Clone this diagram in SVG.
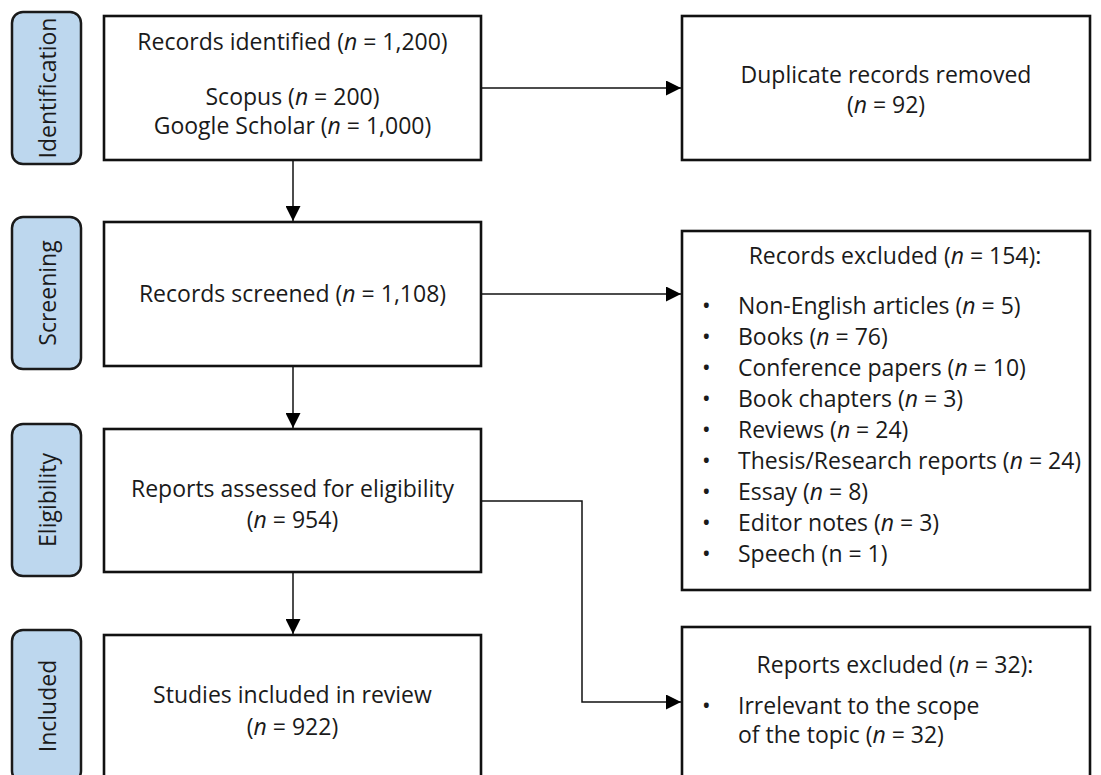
<svg xmlns="http://www.w3.org/2000/svg" width="1101" height="775" viewBox="0 0 1101 775">
<style>
text{font-family:"Open Sans","Noto Sans","Liberation Sans",sans-serif;font-size:23px;fill:#1a1a1a;}
.c{text-anchor:middle;}
.box{fill:#fff;stroke:#111;stroke-width:2.6;}
.pill{fill:#bdd7ee;stroke:#1a1a1a;stroke-width:2.5;}
.conn{fill:none;stroke:#111;stroke-width:1.5;}
.i{font-style:italic;}
</style>
<defs>
<marker id="ah" markerUnits="userSpaceOnUse" markerWidth="15" markerHeight="15" refX="15" refY="7.5" orient="auto">
<path d="M0,0 L15,7.5 L0,15 z" fill="#000"/>
</marker>
</defs>
<rect width="1101" height="775" fill="#fff"/>

<g id="phase-identification">
<rect class="pill" x="12" y="12" width="69" height="152" rx="11"/>
<text class="c" transform="translate(47,88) rotate(-90)" dominant-baseline="central">Identification</text>
</g>
<g id="phase-screening">
<rect class="pill" x="12" y="217" width="69" height="152" rx="11"/>
<text class="c" transform="translate(47,293) rotate(-90)" dominant-baseline="central">Screening</text>
</g>
<g id="phase-eligibility">
<rect class="pill" x="12" y="424" width="69" height="152" rx="11"/>
<text class="c" transform="translate(47,500) rotate(-90)" dominant-baseline="central">Eligibility</text>
</g>
<g id="phase-included">
<rect class="pill" x="12" y="630" width="69" height="152" rx="11"/>
<text class="c" transform="translate(47,706) rotate(-90)" dominant-baseline="central">Included</text>
</g>

<g id="connectors">
<line class="conn" x1="293" y1="160" x2="293" y2="221" marker-end="url(#ah)"/>
<line class="conn" x1="481" y1="88" x2="681" y2="88" marker-end="url(#ah)"/>
<line class="conn" x1="293" y1="366" x2="293" y2="428" marker-end="url(#ah)"/>
<line class="conn" x1="481" y1="294" x2="681" y2="294" marker-end="url(#ah)"/>
<polyline class="conn" points="481,501 582,501 582,702 681,702" marker-end="url(#ah)"/>
<line class="conn" x1="293" y1="572" x2="293" y2="634" marker-end="url(#ah)"/>
</g>

<g id="records-identified">
<rect class="box" x="104" y="16" width="377" height="144"/>
<text class="c" x="292.5" y="50">Records identified (<tspan class="i">n</tspan> = 1,200)</text>
<text class="c" x="292.5" y="105">Scopus (<tspan class="i">n</tspan> = 200)</text>
<text class="c" x="292.5" y="134">Google Scholar (<tspan class="i">n</tspan> = 1,000)</text>
</g>
<g id="duplicates-removed">
<rect class="box" x="682" y="16" width="408" height="144"/>
<text class="c" x="886" y="83">Duplicate records removed</text>
<text class="c" x="886" y="113">(<tspan class="i">n</tspan> = 92)</text>
</g>
<g id="records-screened">
<rect class="box" x="104" y="222" width="377" height="144"/>
<text class="c" x="292.5" y="302">Records screened (<tspan class="i">n</tspan> = 1,108)</text>
</g>
<g id="records-excluded">
<rect class="box" x="682" y="231" width="408" height="359"/>
<text class="c" x="895" y="264">Records excluded (<tspan class="i">n</tspan> = 154):</text>
<g>
<text x="702" y="314">•</text><text x="738" y="314">Non-English articles (<tspan class="i">n</tspan> = 5)</text>
<text x="702" y="345">•</text><text x="738" y="345">Books (<tspan class="i">n</tspan> = 76)</text>
<text x="702" y="376">•</text><text x="738" y="376">Conference papers (<tspan class="i">n</tspan> = 10)</text>
<text x="702" y="407">•</text><text x="738" y="407">Book chapters (<tspan class="i">n</tspan> = 3)</text>
<text x="702" y="438">•</text><text x="738" y="438">Reviews (<tspan class="i">n</tspan> = 24)</text>
<text x="702" y="469">•</text><text x="738" y="469">Thesis/Research reports (<tspan class="i">n</tspan> = 24)</text>
<text x="702" y="500">•</text><text x="738" y="500">Essay (<tspan class="i">n</tspan> = 8)</text>
<text x="702" y="531">•</text><text x="738" y="531">Editor notes (<tspan class="i">n</tspan> = 3)</text>
<text x="702" y="562">•</text><text x="738" y="562">Speech (n = 1)</text>
</g>
</g>
<g id="reports-assessed">
<rect class="box" x="104" y="429" width="377" height="143"/>
<text class="c" x="292.5" y="497">Reports assessed for eligibility</text>
<text class="c" x="292.5" y="528">(<tspan class="i">n</tspan> = 954)</text>
</g>
<g id="reports-excluded">
<rect class="box" x="682" y="627" width="408" height="170"/>
<text class="c" x="895" y="673">Reports excluded (<tspan class="i">n</tspan> = 32):</text>
<text x="702" y="714">•</text><text x="738" y="714">Irrelevant to the scope</text>
<text x="738" y="743">of the topic (<tspan class="i">n</tspan> = 32)</text>
</g>
<g id="studies-included">
<rect class="box" x="104" y="635" width="377" height="170"/>
<text class="c" x="292.5" y="703">Studies included in review</text>
<text class="c" x="292.5" y="735">(<tspan class="i">n</tspan> = 922)</text>
</g>
</svg>
